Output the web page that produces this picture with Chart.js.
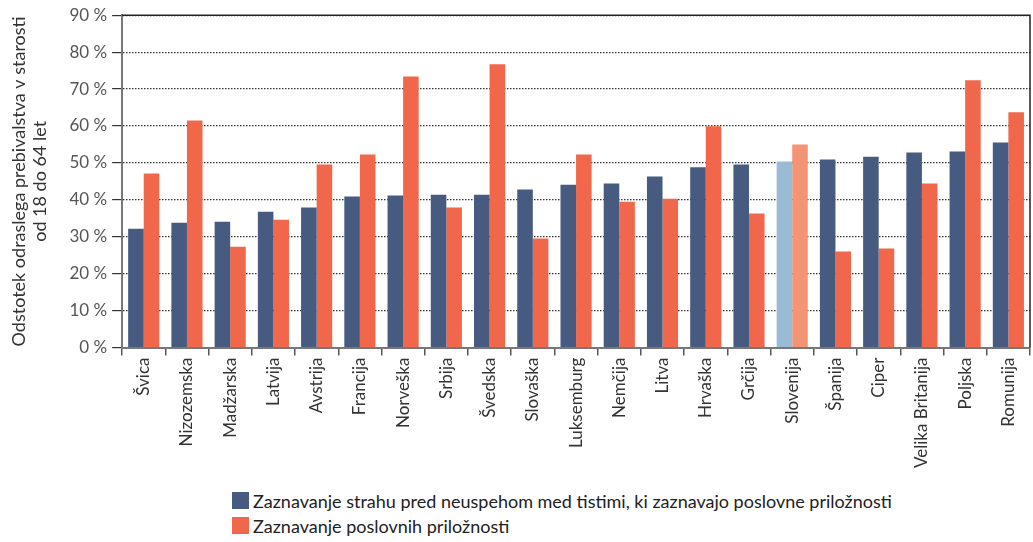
<!DOCTYPE html>
<html>
<head>
<meta charset="utf-8">
<script src="https://cdn.jsdelivr.net/npm/chart.js@4"></script>
<style>
    body { margin: 0; background: #fff; font-family: Lato, sans-serif; }
    .wrap { width: 1033px; height: 542px; position: relative; }
    #chart-box { position: absolute; left: 0; top: 0; width: 1033px; height: 470px; }
    .legend { position: absolute; left: 232px; top: 488px; font-size: 18px; color: #222; }
    .legend-item { display: flex; align-items: center; height: 25px; }
    .swatch { width: 17px; height: 17px; margin-right: 4px; }
</style>
</head>
<body>
<div class="wrap">
    <div id="chart-box"><canvas id="chart"></canvas></div>
    <div class="legend">
        <div class="legend-item"><span class="swatch" style="background:#475a80"></span>Zaznavanje strahu pred neuspehom med tistimi, ki zaznavajo poslovne priložnosti</div>
        <div class="legend-item"><span class="swatch" style="background:#f0674b"></span>Zaznavanje poslovnih priložnosti</div>
    </div>
</div>
<script>
// Data (GEM style survey)
const countries = ['Švica', 'Nizozemska', 'Madžarska', 'Latvija', 'Avstrija', 'Francija', 'Norveška',
    'Srbija', 'Švedska', 'Slovaška', 'Luksemburg', 'Nemčija', 'Litva', 'Hrvaška', 'Grčija',
    'Slovenija', 'Španija', 'Ciper', 'Velika Britanija', 'Poljska', 'Romunija'];
const fearOfFailure = [32.2, 33.8, 34.1, 36.8, 37.9, 40.9, 41.2, 41.4, 41.4, 42.8, 44.1,
    44.4, 46.3, 48.8, 49.6, 50.4, 50.9, 51.7, 52.8, 53.1, 55.5];
const opportunities = [47.1, 61.5, 27.3, 34.6, 49.6, 52.3, 73.4, 37.9, 76.7, 29.5, 52.3,
    39.5, 40.3, 59.9, 36.3, 55.0, 26.0, 26.8, 44.4, 72.4, 63.7];
const yTicks = [0, 10, 20, 30, 40, 50, 60, 70, 80, 90];
const highlight = 'Slovenija';

const FONT = 'Lato';

// frame on top and right of the plot
const framePlugin = {
    id: 'frame',
    afterDraw(chart) {
        const { ctx, chartArea: a } = chart;
        ctx.save();
        ctx.strokeStyle = '#222';
        ctx.lineWidth = 1.5;
        ctx.beginPath();
        ctx.moveTo(a.left, a.top);
        ctx.lineTo(a.right, a.top);
        ctx.lineTo(a.right, a.bottom);
        ctx.stroke();
        ctx.restore();
    }
};

function colorFor(base, light) {
    return c => countries[c.dataIndex] === highlight ? light : base;
}

new Chart(document.getElementById('chart'), {
    type: 'bar',
    data: {
        labels: countries,
        datasets: [
            {
                label: 'Zaznavanje strahu pred neuspehom med tistimi, ki zaznavajo poslovne priložnosti',
                data: fearOfFailure,
                backgroundColor: colorFor('#475a80', '#99bbd3')
            },
            {
                label: 'Zaznavanje poslovnih priložnosti',
                data: opportunities,
                backgroundColor: colorFor('#f0674b', '#f39474')
            }
        ]
    },
    options: {
        responsive: true,
        maintainAspectRatio: false,
        animation: false,
        layout: { padding: { top: 8, right: 3, left: 9 } },
        datasets: { bar: { barPercentage: 1, categoryPercentage: 0.72 } },
        plugins: {
            legend: { display: false },
            tooltip: { enabled: false }
        },
        scales: {
            x: {
                grid: { drawOnChartArea: false, offset: true, tickLength: 8, color: '#555', lineWidth: 1.5 },
                border: { color: '#777', width: 2 },
                ticks: {
                    minRotation: 90, maxRotation: 90, autoSkip: false,
                    color: '#333', padding: 2,
                    font: { family: FONT, size: 17 }
                }
            },
            y: {
                min: 0, max: 90,
                afterBuildTicks: s => { s.ticks = yTicks.map(v => ({ value: v })); },
                grid: {
                    color: '#333', lineWidth: 1.2, tickLength: 10,
                    tickBorderDash: [0, 0], tickColor: '#333'
                },
                border: { color: '#777', width: 2, dash: [1.5, 1.5] },
                ticks: {
                    color: '#555', padding: 5,
                    font: { family: FONT, size: 17 },
                    callback: v => v + ' %'
                },
                title: {
                    display: true,
                    text: ['Odstotek odraslega prebivalstva v starosti', 'od 18 do 64 let'],
                    color: '#333',
                    font: { family: FONT, size: 18, lineHeight: 1.15 },
                    padding: { top: 0, bottom: 14 }
                }
            }
        }
    },
    plugins: [framePlugin]
});
</script>
</body>
</html>
